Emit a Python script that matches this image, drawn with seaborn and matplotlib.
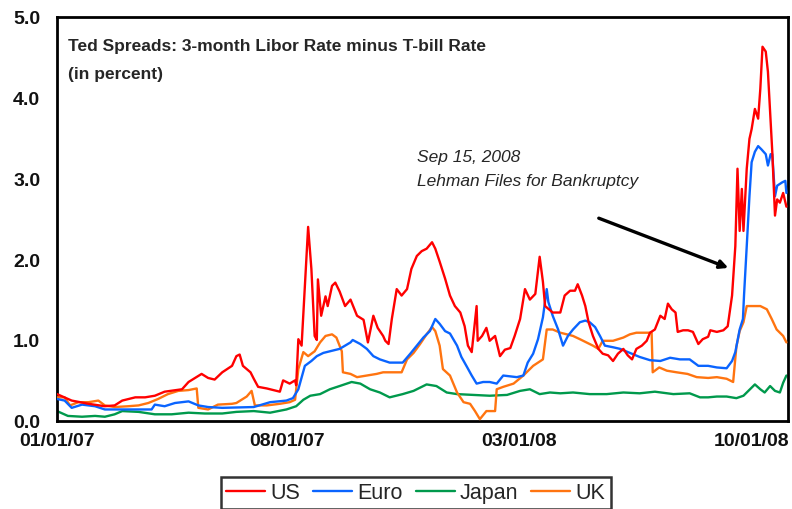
import pandas as pd
import seaborn as sns
import matplotlib.pyplot as plt
import matplotlib.dates as mdates

# x values are days since 01/01/07
start = pd.Timestamp("2007-01-01")

us_day = [0, 13.5, 29, 44, 53, 60, 72, 81, 90, 99, 115, 121, 133, 139, 145, 152, 161,
          165, 168, 171, 178, 181, 185, 193, 199, 205, 208, 214, 219, 220, 222, 225, 228,
          231, 234, 237, 239, 240, 243, 247, 249, 253, 256, 260, 265, 270, 276, 282, 286,
          291, 295, 300, 302, 305, 308, 312.5, 317, 322, 326, 331, 335.5, 340, 345, 348,
          352, 357, 361.5, 366, 371, 375, 378, 381.5, 386, 387, 391, 395, 398, 403, 407.5,
          412, 417, 421, 426, 430.5, 435, 440, 444, 447, 449, 456, 463, 467, 472, 476.5,
          479, 483, 486, 489, 493, 498, 502, 507, 511.5, 516, 521, 525, 529, 533, 538,
          542.5, 545.5, 550, 555, 559, 562, 565.5, 569, 571, 576, 580.5, 585, 590, 594,
          599, 601, 607, 613, 617, 621, 624, 626, 628, 630, 631.5, 634.5, 637, 639, 642,
          645, 647, 649, 652, 654, 656, 658, 660.5, 662.5, 665, 668, 671]
us_val = [0.33, 0.25, 0.21, 0.18, 0.19, 0.25, 0.29, 0.29, 0.31, 0.36, 0.39, 0.48, 0.58,
          0.53, 0.51, 0.60, 0.68, 0.80, 0.82, 0.68, 0.60, 0.52, 0.42, 0.40, 0.38, 0.36,
          0.50, 0.46, 0.50, 0.44, 1.01, 0.93, 1.67, 2.40, 1.88, 1.05, 1.00, 1.75, 1.30,
          1.54, 1.42, 1.67, 1.71, 1.60, 1.42, 1.50, 1.30, 1.25, 0.97, 1.30, 1.15, 1.05,
          0.99, 0.95, 1.26, 1.63, 1.55, 1.63, 1.88, 2.04, 2.10, 2.13, 2.21, 2.13, 1.97,
          1.76, 1.55, 1.42, 1.34, 1.17, 0.93, 0.85, 1.42, 0.99, 1.05, 1.15, 0.99, 1.05,
          0.80, 0.88, 0.90, 1.05, 1.26, 1.63, 1.50, 1.57, 2.03, 1.72, 1.42, 1.34, 1.34,
          1.55, 1.61, 1.61, 1.69, 1.55, 1.42, 1.22, 1.05, 0.89, 0.83, 0.81, 0.74, 0.83,
          0.89, 0.81, 0.76, 0.89, 0.93, 0.99, 1.09, 1.13, 1.30, 1.26, 1.45, 1.38, 1.34,
          1.10, 1.12, 1.12, 1.10, 0.95, 1.01, 1.04, 1.12, 1.10, 1.12, 1.17, 1.55, 2.16,
          3.12, 2.35, 2.87, 2.35, 3.12, 3.49, 3.61, 3.86, 3.74, 4.11, 4.63, 4.57, 4.32,
          3.82, 3.33, 2.54, 2.74, 2.70, 2.82, 2.65]

euro_day = [0, 7, 13.5, 23, 35, 44, 60, 75, 87, 90, 99, 108.5, 121, 130, 139, 152, 181,
            196, 211, 217, 222, 228, 234, 239, 245, 251, 260, 270, 272, 279, 285, 291,
            297, 306, 318, 325, 331, 337, 343, 348, 352, 357, 361.5, 368, 372, 377,
            381.5, 386, 392, 398, 404.5, 410.5, 423, 429, 433, 438, 442.5, 447, 450.5,
            452, 456, 461, 465.5, 470, 474.7, 481, 486, 490, 495, 499.5, 504, 511.5, 518,
            527, 536, 545.5, 555, 564, 573, 582, 590, 599, 607, 616, 621, 624, 628, 631,
            632, 634.5, 637, 639, 642, 645, 648, 652, 654, 656.5, 658, 660.5, 662.5, 667,
            670, 671]
euro_val = [0.27, 0.25, 0.16, 0.20, 0.18, 0.14, 0.14, 0.14, 0.14, 0.20, 0.18, 0.22, 0.24,
            0.19, 0.17, 0.16, 0.17, 0.23, 0.25, 0.28, 0.39, 0.68, 0.74, 0.80, 0.84, 0.86,
            0.89, 0.97, 1.00, 0.95, 0.89, 0.80, 0.76, 0.72, 0.72, 0.83, 0.93, 1.03, 1.11,
            1.26, 1.20, 1.11, 1.08, 0.93, 0.79, 0.67, 0.56, 0.46, 0.48, 0.48, 0.46, 0.56,
            0.54, 0.56, 0.72, 0.83, 1.01, 1.28, 1.63, 1.47, 1.30, 1.13, 0.93, 1.05, 1.13,
            1.22, 1.24, 1.22, 1.16, 1.05, 0.93, 0.91, 0.89, 0.84, 0.79, 0.75, 0.74, 0.78,
            0.76, 0.76, 0.68, 0.68, 0.66, 0.65, 0.74, 0.85, 1.13, 1.26, 1.55, 2.16, 2.78,
            3.20, 3.33, 3.40, 3.36, 3.30, 3.16, 3.30, 3.30, 2.78, 2.91, 2.95, 2.97, 2.82]

japan_day = [0, 10, 23, 35, 44, 53, 60, 75, 90, 105.5, 121, 136, 152, 165, 181, 196, 211,
             220, 226.6, 233, 242, 251, 260, 271, 279, 288, 297, 306, 318, 328, 340, 349,
             358.5, 368, 383, 398, 414, 426, 435, 444, 453.5, 463, 474.7, 490, 505.7, 521,
             536, 550, 567, 582, 591.5, 599, 607, 616, 625, 631.5, 637.5, 642, 647, 651,
             656, 660.5, 665, 668, 671]
japan_val = [0.12, 0.06, 0.05, 0.06, 0.05, 0.08, 0.12, 0.11, 0.08, 0.08, 0.10, 0.09,
             0.09, 0.11, 0.12, 0.10, 0.14, 0.18, 0.26, 0.31, 0.33, 0.39, 0.43, 0.48, 0.46,
             0.39, 0.35, 0.29, 0.33, 0.37, 0.45, 0.43, 0.35, 0.33, 0.32, 0.31, 0.32, 0.37,
             0.39, 0.33, 0.35, 0.34, 0.35, 0.33, 0.33, 0.35, 0.34, 0.36, 0.33, 0.34, 0.29,
             0.29, 0.30, 0.30, 0.28, 0.31, 0.39, 0.45, 0.39, 0.35, 0.43, 0.37, 0.35, 0.47,
             0.56]

uk_day = [0, 7, 12, 19.6, 29, 38, 44, 53, 65.6, 75, 84, 93, 102, 111.6, 121, 128.5, 130,
          139, 148, 161, 165, 174.5, 179, 182, 193, 205, 214, 219, 222, 226.6, 231, 237,
          242, 247, 253, 257, 262, 263, 270, 276, 285, 294, 300, 306, 317, 322, 328, 334,
          340, 345, 348, 352, 355, 361.5, 368, 374, 380, 384.5, 389, 395, 403, 404.5,
          410.5, 420, 429, 438, 447, 450.5, 456, 463, 469, 474.7, 481, 487, 493, 498,
          502, 511.5, 521, 527, 533, 542.5, 547, 548, 554, 561, 570, 580, 588.5, 599,
          607, 616, 622, 625, 628, 631.5, 634.5, 640.5, 647, 653, 657.5, 662, 668, 671]
uk_val = [0.29, 0.29, 0.19, 0.23, 0.23, 0.25, 0.19, 0.17, 0.18, 0.19, 0.22, 0.27, 0.33,
          0.37, 0.38, 0.40, 0.16, 0.14, 0.20, 0.21, 0.22, 0.30, 0.37, 0.19, 0.19, 0.21,
          0.23, 0.26, 0.64, 0.85, 0.80, 0.86, 0.97, 1.05, 1.07, 1.03, 0.86, 0.60, 0.58,
          0.54, 0.56, 0.58, 0.60, 0.60, 0.60, 0.76, 0.84, 0.95, 1.07, 1.16, 1.11, 0.93,
          0.64, 0.56, 0.35, 0.23, 0.21, 0.12, 0.02, 0.12, 0.12, 0.39, 0.42, 0.46, 0.56,
          0.68, 0.76, 1.13, 1.13, 1.09, 1.07, 1.05, 1.01, 0.97, 0.93, 0.89, 0.99, 0.99,
          1.03, 1.07, 1.09, 1.09, 1.09, 0.60, 0.66, 0.62, 0.60, 0.58, 0.54, 0.53, 0.54,
          0.52, 0.48, 0.92, 1.11, 1.22, 1.42, 1.42, 1.42, 1.38, 1.26, 1.13, 1.05, 0.97]

series_names = ["US", "Euro", "Japan", "UK"]
series_colors = ["#FF0000", "#0A64FF", "#00994C", "#FF7410"]

frames = []
for name, days, vals in [("US", us_day, us_val), ("Euro", euro_day, euro_val),
                         ("Japan", japan_day, japan_val), ("UK", uk_day, uk_val)]:
    frames.append(pd.DataFrame({"date": start + pd.to_timedelta(days, unit="D"),
                                "rate": vals, "series": name}))
df = pd.concat(frames, ignore_index=True)

tick_dates = ["2007-01-01", "2007-08-01", "2008-03-01", "2008-10-01"]
y_ticks = [0, 1, 2, 3, 4, 5]

sns.set_theme(style="white")
plt.rcParams["font.family"] = ["Liberation Sans", "DejaVu Sans"]

fig = plt.figure(figsize=(7.92, 5.10), dpi=100)
ax = fig.add_axes([0.072, 0.173, 0.923, 0.792])

sns.lineplot(data=df, x="date", y="rate", hue="series", hue_order=series_names,
             palette=series_colors, estimator=None, linewidth=1.7, ax=ax, legend=False)
# red drawn on top
for line, z in zip(ax.lines, [5, 4, 2, 3]):
    line.set_zorder(z)

ax.set_xlim(start, start + pd.Timedelta(days=672.5))
ax.set_ylim(0, 5)
ax.set_xticks(pd.to_datetime(tick_dates))
ax.xaxis.set_major_formatter(mdates.DateFormatter("%m/%d/%y"))
ax.set_yticks(y_ticks)
ax.set_yticklabels([f"{v:.1f}" for v in y_ticks])
ax.tick_params(axis="both", direction="in", length=5, width=1.5, colors="black",
               labelsize=14)
ax.tick_params(axis="x", pad=8)
ax.tick_params(axis="y", pad=12)
for lab in ax.get_xticklabels() + ax.get_yticklabels():
    lab.set_fontweight("bold")
    lab.set_color("#111111")
ax.set_xlabel("")
ax.set_ylabel("")
for sp in ax.spines.values():
    sp.set_visible(True)
    sp.set_color("black")
    sp.set_linewidth(2)

ax.text(0.015, 0.93, "Ted Spreads: 3-month Libor Rate minus T-bill Rate",
        transform=ax.transAxes, ha="left", va="center", fontsize=12.5, fontweight="bold")
ax.text(0.015, 0.86, "(in percent)",
        transform=ax.transAxes, ha="left", va="center", fontsize=12.5, fontweight="bold")

ax.text(start + pd.Timedelta(days=331), 3.125, "Sep 15, 2008\nLehman Files for Bankruptcy",
        ha="left", va="center", fontsize=12.5, style="italic", linespacing=1.75)
ax.annotate("", xy=(start + pd.Timedelta(days=620), 1.88),
            xytext=(start + pd.Timedelta(days=496), 2.52),
            arrowprops=dict(arrowstyle="-|>", color="black", lw=2.4, mutation_scale=12))

handles = [plt.Line2D([], [], color=c, lw=1.7) for c in series_colors]
leg = fig.legend(handles, series_names, loc="upper center", bbox_to_anchor=(0.525, 0.0627),
                 ncol=4, frameon=True, fancybox=False, fontsize=15.5, handlelength=1.8,
                 handletextpad=0.25, columnspacing=0.6, borderpad=0.25, borderaxespad=0)
leg.get_frame().set_edgecolor("black")
leg.get_frame().set_linewidth(1.8)

fig.savefig("out.png", dpi=100)
